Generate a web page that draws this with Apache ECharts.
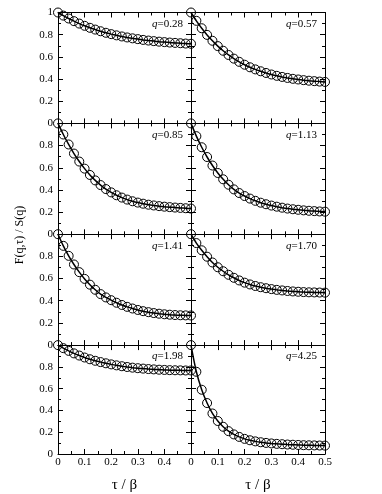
<!DOCTYPE html>
<html><head><meta charset="utf-8">
<script src="https://cdn.jsdelivr.net/npm/echarts@6/dist/echarts.min.js"></script>
<style>html,body{margin:0;padding:0;background:#fff}#c{width:382px;height:494px}</style>
</head><body><div id="c"></div>
<script>
// sample times tau/beta
const tau = [0,0.02,0.04,0.06,0.08,0.10,0.12,0.14,0.16,0.18,0.20,0.22,0.24,0.26,0.28,0.30,0.32,0.34,0.36,0.38,0.40,0.42,0.44,0.46,0.48,0.50];
const qLabels = ['0.28','0.57','0.85','1.13','1.41','1.70','1.98','4.25'];
const f_q028 = [1.000,0.972,0.946,0.922,0.900,0.880,0.862,0.846,0.831,0.817,0.805,0.794,0.784,0.775,0.767,0.760,0.753,0.747,0.742,0.737,0.733,0.729,0.726,0.723,0.720,0.718];
const f_q057 = [1.000,0.925,0.858,0.798,0.745,0.697,0.655,0.617,0.584,0.555,0.529,0.506,0.487,0.470,0.455,0.441,0.429,0.419,0.410,0.402,0.396,0.390,0.385,0.381,0.377,0.374];
const f_q085 = [1.000,0.900,0.810,0.728,0.656,0.592,0.535,0.486,0.444,0.408,0.378,0.352,0.331,0.313,0.298,0.286,0.276,0.267,0.260,0.254,0.249,0.245,0.241,0.238,0.235,0.232];
const f_q113 = [1.000,0.885,0.785,0.697,0.620,0.553,0.496,0.447,0.405,0.372,0.345,0.322,0.302,0.285,0.271,0.259,0.249,0.240,0.232,0.226,0.221,0.216,0.212,0.209,0.206,0.204];
const f_q141 = [1.000,0.895,0.805,0.727,0.658,0.597,0.545,0.499,0.460,0.430,0.405,0.382,0.362,0.345,0.330,0.317,0.306,0.297,0.289,0.283,0.278,0.274,0.271,0.269,0.268,0.267];
const f_q170 = [1.000,0.920,0.855,0.797,0.745,0.702,0.666,0.634,0.607,0.583,0.563,0.547,0.533,0.522,0.513,0.505,0.498,0.493,0.488,0.484,0.481,0.478,0.476,0.475,0.474,0.473];
const f_q198 = [1.000,0.972,0.947,0.924,0.904,0.886,0.870,0.856,0.844,0.833,0.823,0.814,0.806,0.799,0.793,0.788,0.784,0.780,0.777,0.774,0.772,0.770,0.769,0.768,0.767,0.767];
const f_q425 = [1.000,0.755,0.590,0.468,0.372,0.303,0.250,0.210,0.180,0.157,0.139,0.126,0.116,0.108,0.102,0.097,0.093,0.090,0.087,0.085,0.083,0.081,0.080,0.079,0.078,0.077];
const panels = [f_q028,f_q057,f_q085,f_q113,f_q141,f_q170,f_q198,f_q425];
const xTitle = 'τ / β';
const yTitle = 'F(q,τ) / S(q)';

const FONT = 'Liberation Serif';
const colLeft = [58, 191], colW = [133, 134];
const rowTop = [12.5, 123.4, 234.2, 345.1], rowH = 110.9;
const W = 382;

const grids = [], xAxes = [], yAxes = [], series = [], titles = [];
const tickCol = '#000';
function xAx(i, pos, showLab, showMax, name) {
  return {
    type: 'value', gridIndex: i, position: pos, min: 0, max: 0.5, interval: 0.1,
    axisLine: {show: true, onZero: false, lineStyle: {color: tickCol, width: 1}},
    axisTick: {show: true, inside: true, length: 5, lineStyle: {color: tickCol}},
    minorTick: {show: true, splitNumber: 2, length: 3, lineStyle: {color: tickCol}},
    splitLine: {show: false}, minorSplitLine: {show: false},
    axisLabel: {show: showLab, showMinLabel: true, showMaxLabel: showMax, margin: 3,
      fontFamily: FONT, fontSize: 11, color: '#000',
      formatter: v => (!showMax && Math.abs(v - 0.5) < 1e-9) ? '' : String(Math.round(v * 10) / 10)},
    name: name || '', nameLocation: 'middle', nameGap: 24,
    nameTextStyle: {fontFamily: FONT, fontSize: 15, color: '#000'}
  };
}
function yAx(i, pos, showLab, showMax) {
  return {
    type: 'value', gridIndex: i, position: pos, min: 0, max: 1, interval: 0.2,
    axisLine: {show: true, onZero: false, lineStyle: {color: tickCol, width: 1}},
    axisTick: {show: true, inside: true, length: 5, lineStyle: {color: tickCol}},
    minorTick: {show: true, splitNumber: 2, length: 3, lineStyle: {color: tickCol}},
    splitLine: {show: false}, minorSplitLine: {show: false},
    axisLabel: {show: showLab, margin: 5, fontFamily: FONT, fontSize: 11, color: '#000',
      showMinLabel: true, showMaxLabel: showMax,
      formatter: v => (!showMax && Math.abs(v - 1) < 1e-9) ? '' : String(Math.round(v * 10) / 10)}
  };
}
for (let i = 0; i < 8; i++) {
  const r = Math.floor(i / 2), c = i % 2;
  grids.push({left: colLeft[c], top: rowTop[r], width: colW[c], height: rowH});
  const bottomRow = r === 3;
  xAxes.push(xAx(i, 'bottom', bottomRow, c === 1, bottomRow ? xTitle : ''));
  xAxes.push(xAx(i, 'top', false, true, ''));
  yAxes.push(yAx(i, 'left', c === 0, r === 0));
  yAxes.push(yAx(i, 'right', false, true));
  series.push({
    type: 'line', xAxisIndex: 2 * i, yAxisIndex: 2 * i,
    data: tau.map((t, k) => [t, panels[i][k]]),
    symbol: 'circle', symbolSize: 9, showSymbol: true, smooth: 0.3, clip: false,
    itemStyle: {color: 'rgba(255,255,255,0)', borderColor: '#000', borderWidth: 1},
    lineStyle: {color: '#000', width: 1.5},
    emphasis: {disabled: true}, animation: false, z: 3
  });
  const rightEdge = colLeft[c] + colW[c] - 8;
  titles.push({
    text: '{i|q}=' + qLabels[i], right: W - rightEdge, top: rowTop[r] + 6, padding: 0,
    textStyle: {fontFamily: FONT, fontSize: 11, fontWeight: 'normal', color: '#000',
      rich: {i: {fontFamily: FONT, fontSize: 11, fontStyle: 'italic', color: '#000'}}}
  });
}
const chart = echarts.init(document.getElementById('c'), null, {renderer: 'canvas'});
chart.setOption({
  backgroundColor: '#fff', animation: false,
  title: titles, grid: grids, xAxis: xAxes, yAxis: yAxes, series: series,
  graphic: [{type: 'text', x: 20, y: 235, rotation: Math.PI / 2,
    style: {text: yTitle, fontFamily: FONT, fontSize: 12, fill: '#000', textAlign: 'center', textVerticalAlign: 'middle'}}]
});
</script></body></html>
